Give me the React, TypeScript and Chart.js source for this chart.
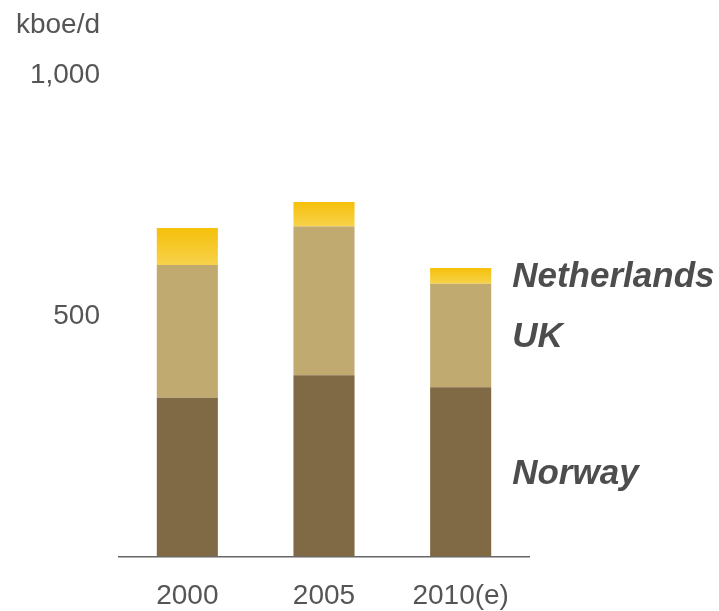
import React, { useEffect, useRef } from 'react';
import { Chart, registerables } from 'chart.js';

Chart.register(...registerables);

const categories = ['2000', '2005', '2010(e)'];
const norway = [330, 377, 352];
const uk = [276, 309, 215];
const netherlands = [77, 51, 33];
const yTickValues = [500, 1000];
const unitLabel = 'kboe/d';

const FONT = '"Liberation Sans", Arial, Helvetica, sans-serif';
const TEXT = '#555555';

const labelPlugin = {
  id: 'seriesLabels',
  afterDatasetsDraw(chart: any) {
    const ctx = chart.ctx;
    const last = chart.data.labels.length - 1;
    ctx.save();
    ctx.font = `italic bold 35px ${FONT}`;
    ctx.fillStyle = '#4d4d4d';
    ctx.textBaseline = 'middle';
    ctx.textAlign = 'left';
    chart.data.datasets.forEach((ds: any, i: number) => {
      const el = chart.getDatasetMeta(i).data[last];
      const mid = (el.y + el.base) / 2;
      ctx.fillText(ds.label, el.x + el.width / 2 + 21, mid + 2);
    });
    const ys = chart.scales.y;
    ctx.font = `28px ${FONT}`;
    ctx.fillStyle = TEXT;
    ctx.textAlign = 'right';
    ctx.textBaseline = 'alphabetic';
    ctx.fillText(unitLabel, ys.right - 19, chart.chartArea.top - 43);
    ctx.restore();
  },
};

function nlGradient(c: any) {
  const chart = c.chart;
  const ys = chart.scales && chart.scales.y;
  if (!chart.chartArea || !ys || c.dataIndex === undefined) return '#F6C928';
  const i = c.dataIndex;
  const total = norway[i] + uk[i] + netherlands[i];
  const top = ys.getPixelForValue(total);
  const bottom = ys.getPixelForValue(total - netherlands[i]);
  if (!isFinite(top) || !isFinite(bottom) || top === bottom) return '#F6C928';
  const g = chart.ctx.createLinearGradient(0, top, 0, bottom);
  g.addColorStop(0, '#F5C00A');
  g.addColorStop(1, '#F7D24B');
  return g;
}

export default function App() {
  const ref = useRef<HTMLCanvasElement>(null);
  useEffect(() => {
    if (!ref.current) return;
    const chart = new Chart(ref.current, {
      type: 'bar',
      data: {
        labels: categories,
        datasets: [
          { label: 'Norway', data: norway, backgroundColor: '#806A45' },
          { label: 'UK', data: uk, backgroundColor: '#C0AA70' },
          { label: 'Netherlands', data: netherlands, backgroundColor: nlGradient as any },
        ],
      },
      options: {
        responsive: false,
        animation: false,
        events: [],
        layout: { padding: { top: 75.5, right: 190, bottom: 0, left: 0 } },
        datasets: {
          bar: { barPercentage: 1, categoryPercentage: 0.447, borderWidth: 0 },
        },
        plugins: {
          legend: { display: false },
          tooltip: { enabled: false },
          title: { display: false },
        },
        scales: {
          x: {
            stacked: true,
            grid: { display: false },
            border: { display: true, color: '#666666', width: 1.5 },
            ticks: {
              color: TEXT,
              font: { family: FONT, size: 28 },
              padding: 15,
              maxRotation: 0,
            },
            afterFit: (s: any) => {
              s.height = 54.5;
            },
          },
          y: {
            stacked: true,
            min: 0,
            max: 1000,
            grid: { display: false },
            border: { display: false },
            ticks: {
              color: TEXT,
              font: { family: FONT, size: 28 },
              padding: 11,
            },
            afterBuildTicks: (s: any) => {
              s.ticks = yTickValues.map((v) => ({ value: v }));
            },
            afterFit: (s: any) => {
              s.width = 119;
            },
          },
        },
      },
      plugins: [labelPlugin],
    });
    return () => chart.destroy();
  }, []);
  return (
    <div style={{ position: 'fixed', left: 0, top: 0, width: 719, height: 611, background: '#fff' }}>
      <canvas ref={ref} width={719} height={611} />
    </div>
  );
}
